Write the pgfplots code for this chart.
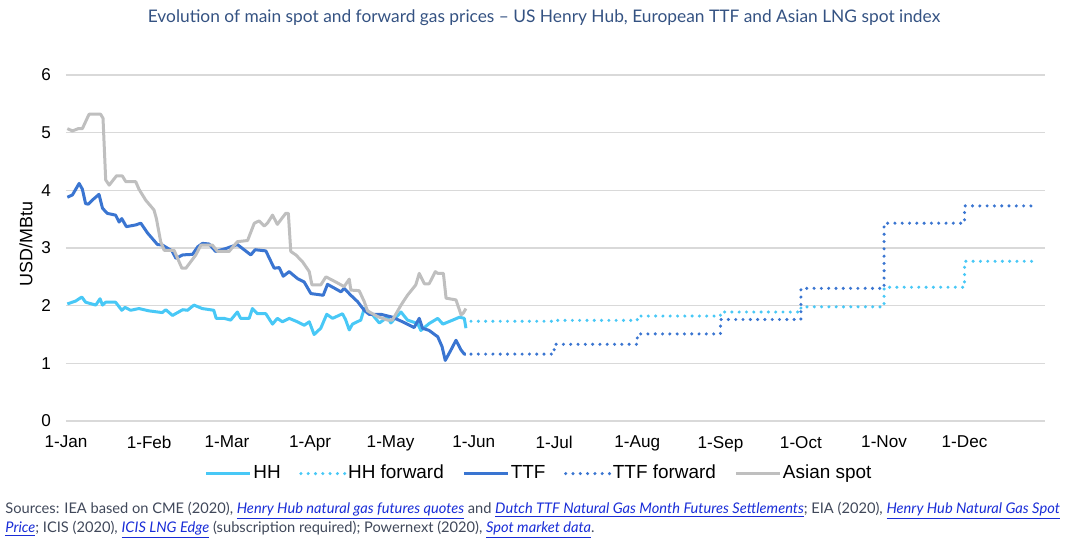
\documentclass[border=0pt]{standalone}
\usepackage{fontspec}
\setmainfont{Liberation Sans}
\newfontfamily\notefont[Ligatures=TeX]{Lato}
\usepackage{pgfplots}
\pgfplotsset{compat=1.18}

\definecolor{hhc}{RGB}{72,200,246}
\definecolor{ttfc}{RGB}{58,117,209}
\definecolor{asc}{RGB}{191,191,191}
\definecolor{gridc}{RGB}{217,217,217}
\definecolor{titlec}{RGB}{52,82,130}
\definecolor{srcc}{RGB}{64,72,90}
\definecolor{linkc}{RGB}{25,45,215}

\newcommand{\lnk}[1]{\textcolor{linkc}{\underline{\textit{#1}}}}

\tikzset{
  spot/.style={line width=1.5bp, line join=round},
  fwd/.style={line width=1.7bp, line cap=round, dash pattern=on 0bp off 3.65bp},
}

\begin{document}
\begin{tikzpicture}
\path[use as bounding box] (0,0) rectangle (540bp,279bp);

\node[font=\notefont\fontsize{8.7}{10}\selectfont, text=titlec] at (272bp,270bp)
  {Evolution of main spot and forward gas prices – US Henry Hub, European TTF and Asian LNG spot index};

\node[rotate=90, font=\fontsize{9}{10}\selectfont] at (13bp,157bp) {USD/MBtu};

\begin{axis}[
  at={(33bp,68.5bp)}, anchor=south west,
  scale only axis, width=489.5bp, height=173bp,
  xmin=0, xmax=365, ymin=0, ymax=6,
  axis x line=bottom, axis y line=left,
  axis line style={draw=none},
  major tick length=0pt,
  ytick={0,1,2,3,4,5,6},
  xtick={0,31,60,91,121,152,182,213,244,274,305,335},
  xticklabels={1-Jan,1-Feb,1-Mar,1-Apr,1-May,1-Jun,1-Jul,1-Aug,1-Sep,1-Oct,1-Nov,1-Dec},
  ymajorgrids, grid style={gridc, line width=0.8bp},
  tick label style={font=\fontsize{8.6}{10}\selectfont},
  /pgf/number format/assume math mode=true,
  yticklabel style={xshift=-4bp},
  xticklabel style={yshift=-4bp},
  legend columns=5,
  legend style={at={(0.483,-0.152)}, anchor=center, draw=none, fill=none,
    font=\fontsize{9.5}{11}\selectfont,
    nodes={inner xsep=0.75bp},
    /tikz/every even column/.append style={column sep=8.5bp}},
  legend image code/.code={\draw[#1] (0bp,0bp) -- (22bp,0bp);},
]

% Henry Hub spot
\addplot[spot, hhc] coordinates {
(0.5,2.03) (3.6,2.08) (5.9,2.15) (7.3,2.06) (11.1,2.01) (12.7,2.12) (13.6,2.01)
(14.8,2.06) (18.5,2.06) (20.8,1.92) (22,1.97) (24.1,1.92) (27.2,1.95) (30.9,1.91)
(35.9,1.88) (37.2,1.93) (39.7,1.83) (43.5,1.93) (45.3,1.92) (47.7,2.01) (50.8,1.95)
(55.1,1.92) (56,1.78) (58.9,1.78) (61.4,1.75) (63.9,1.89) (65.1,1.78) (68.3,1.78)
(69.5,1.95) (71.4,1.86) (74.5,1.86) (77,1.68) (78.8,1.78) (80.7,1.72) (83.2,1.78)
(86.3,1.72) (88.8,1.66) (90.7,1.72) (92.5,1.50) (95,1.61) (97.2,1.85) (99.4,1.78)
(103.1,1.86) (104.3,1.75) (105.6,1.58) (106.8,1.68) (109.9,1.75) (111.2,1.95)
(114.3,1.84) (116.8,1.70) (119.9,1.80) (121.1,1.70) (124.9,1.89) (127.3,1.75)
(131.1,1.69) (132.3,1.57) (135.4,1.69) (138.6,1.78) (140.5,1.68) (144.2,1.75)
(146.7,1.80) (148.5,1.78) (149.1,1.61)
};
\addlegendentry{HH}

% Henry Hub forward
\addplot[fwd, hhc, const plot] coordinates {
(151,1.73) (182,1.745) (213,1.82) (244,1.89) (274,1.98) (305,2.32) (335,2.77) (362,2.77)
};
\addlegendentry{HH forward}

% TTF spot
\addplot[spot, ttfc] coordinates {
(0.5,3.88) (2.4,3.92) (4.9,4.12) (6.1,4.02) (7.3,3.77) (8.3,3.76) (9.8,3.83)
(12.3,3.93) (13.6,3.69) (15.4,3.60) (18.5,3.57) (19.8,3.45) (20.8,3.51) (22.5,3.37)
(26,3.40) (27.9,3.43) (30.4,3.26) (34.1,3.06) (36,3.05) (39.5,2.95) (41,2.82)
(43.5,2.88) (47.2,2.89) (49.1,3.02) (50.9,3.08) (53.3,3.07) (55.8,2.94) (59.5,2.99)
(63.9,3.06) (68.9,2.88) (70.5,2.97) (74.5,2.95) (77.6,2.65) (79.5,2.66) (81,2.51)
(83.2,2.59) (86.3,2.47) (88.8,2.41) (91.3,2.21) (95.9,2.18) (97.5,2.37) (100.6,2.29)
(102.5,2.24) (103.7,2.30) (106.2,2.18) (108.7,2.07) (111.2,1.92) (113,1.85)
(117.4,1.85) (121.7,1.80) (125.5,1.72) (129.8,1.62) (131.7,1.78) (132.9,1.61)
(135.4,1.57) (138.6,1.46) (140.2,1.29) (141.4,1.05) (143.5,1.23) (145.4,1.40)
(147.3,1.23) (148.5,1.16) (149.1,1.16)
};
\addlegendentry{TTF}

% TTF forward
\addplot[fwd, ttfc, const plot] coordinates {
(151,1.16) (182,1.33) (213,1.51) (244,1.76) (274,2.30) (305,3.43) (335,3.73) (362,3.73)
};
\addlegendentry{TTF forward}

% Asian LNG spot
\addplot[spot, asc] coordinates {
(0.5,5.07) (2.4,5.03) (4.6,5.07) (6.1,5.07) (8.6,5.32) (12.9,5.32) (13.8,5.25)
(14.8,4.18) (16.1,4.09) (18.8,4.25) (21,4.25) (22.3,4.15) (26,4.15) (27.2,4.02)
(29.7,3.83) (32.8,3.66) (33.7,3.51) (35.3,3.11) (36.6,2.96) (40.3,2.96) (43.2,2.65)
(44.7,2.65) (48.4,2.88) (50.3,3.05) (54.6,3.05) (56.5,2.94) (60.8,2.94) (63.9,3.11)
(67.7,3.13) (70.2,3.43) (72,3.47) (73.9,3.38) (75.1,3.43) (77,3.57) (78.8,3.41)
(81.9,3.60) (82.9,3.60) (83.8,2.94) (85.7,2.88) (88.2,2.76) (90.7,2.59) (91.7,2.36)
(95,2.36) (96.9,2.50) (100.6,2.41) (103.7,2.33) (105.6,2.46) (106.2,2.27) (109.3,2.26)
(111.2,2.07) (112.4,1.91) (116.2,1.81) (119.9,1.75) (121.7,1.75) (124.9,2.01)
(127.3,2.18) (130.4,2.36) (131.7,2.56) (133.6,2.38) (135.4,2.38) (137.7,2.59)
(138.6,2.56) (140.7,2.56) (141.7,2.13) (145.4,2.10) (147.3,1.84) (148.1,1.87)
(149.1,1.95)
};
\addlegendentry{Asian spot}
\end{axis}

\node[anchor=west, inner sep=0pt, text=srcc, font=\notefont\fontsize{7.35}{8}\selectfont] at (2.5bp,23.5bp)
  {Sources: IEA based on CME (2020), \lnk{Henry Hub natural gas futures quotes} and \lnk{Dutch TTF Natural Gas Month Futures Settlements}; EIA (2020), \lnk{Henry Hub Natural Gas Spot}};
\node[anchor=west, inner sep=0pt, text=srcc, font=\notefont\fontsize{7.35}{8}\selectfont] at (2.5bp,14bp)
  {\lnk{Price}; ICIS (2020), \lnk{ICIS LNG Edge} (subscription required); Powernext (2020), \lnk{Spot market data}.};
\end{tikzpicture}
\end{document}
